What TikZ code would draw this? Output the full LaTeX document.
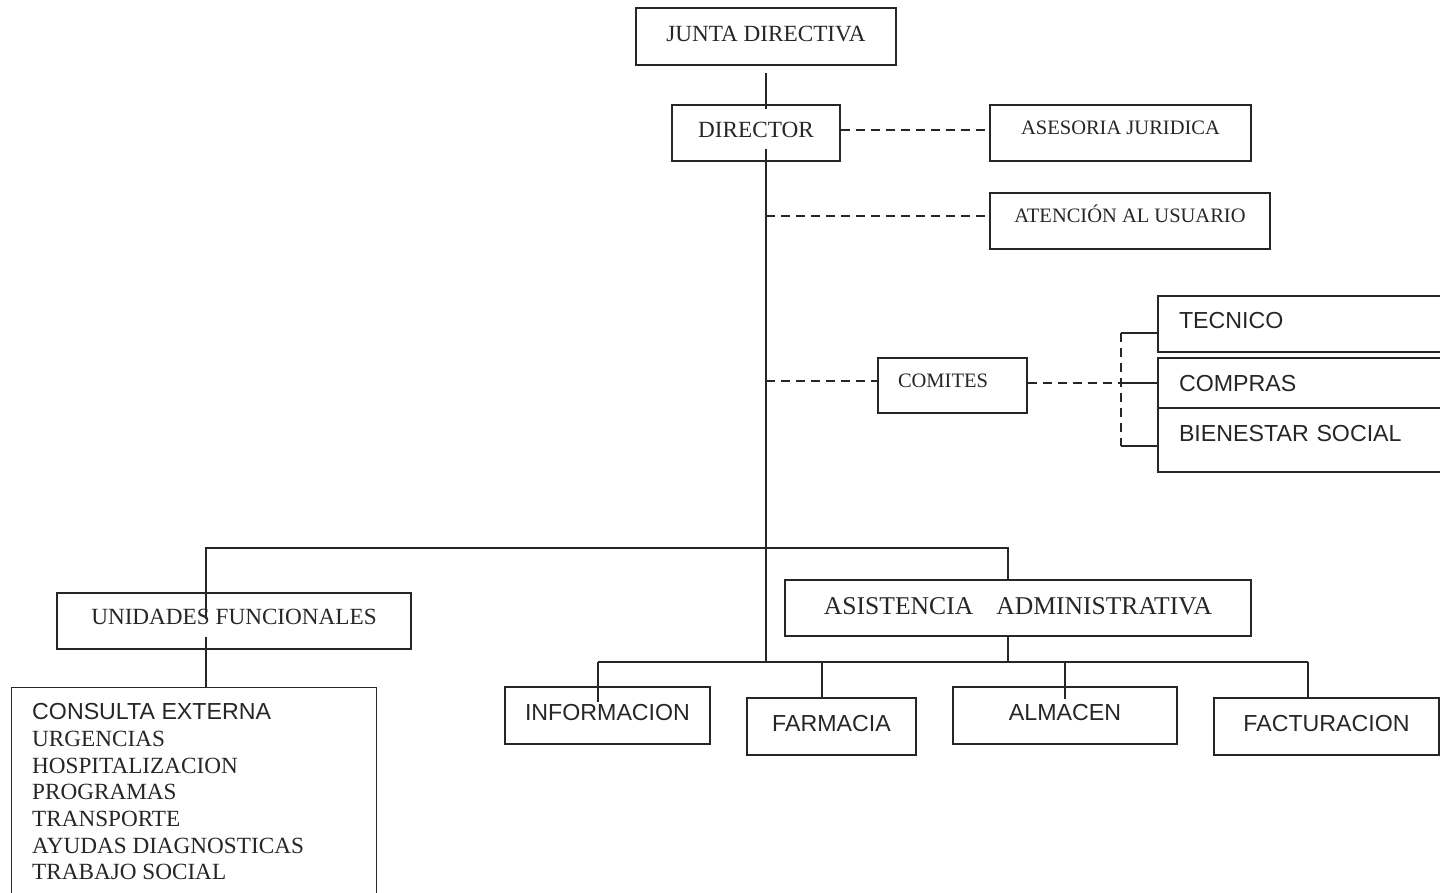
\documentclass[tikz,border=0pt]{standalone}
\usepackage{fontspec}
\setmainfont{Liberation Serif}
\newfontfamily\sansf{Liberation Sans}
\usetikzlibrary{calc}
\definecolor{ink}{HTML}{262626}
\tikzset{
  box/.style={draw=ink, line width=1.3pt, rectangle, inner sep=0pt, text=ink,
    font=\fontsize{23.2}{27}\selectfont, text height=15.3pt, text depth=0pt},
  small/.style={font=\fontsize{20.5}{24}\selectfont, text height=13.5pt},
  big/.style={font=\fontsize{25.6}{30}\selectfont, text height=16.9pt},
  sans/.style={font=\sansf\fontsize{23.2}{27}\selectfont, text height=16.6pt},
  lift/.style={text depth=#1},
  leftpad/.style={align=left, inner xsep=#1},
  listtext/.style={inner sep=0pt, align=left, text=ink, anchor=north west,
    font=\fontsize{23.2}{26.7}\selectfont},
  link/.style={draw=ink, line width=1.3pt},
  dashlink/.style={link, dash pattern=on 9pt off 6pt},
}
\begin{document}
\begin{tikzpicture}[x=1pt,y=-1pt]
\useasboundingbox (0,0) rectangle (1440,893);
\clip (0,0) rectangle (1440,893);

% top of the hierarchy
\node[box, minimum width=260pt, minimum height=57pt, lift=5pt] (junta) at (766,36.5) {JUNTA DIRECTIVA};
\node[box, minimum width=168pt, minimum height=56pt, lift=6pt] (director) at (756,133) {DIRECTOR};

% staff units
\node[box, small, minimum width=261pt, minimum height=56pt, lift=10pt] (asesoria) at (1120.5,133) {ASESORIA JURIDICA};
\node[box, small, minimum width=280pt, minimum height=56pt, lift=10pt] (atencion) at (1130,221) {ATENCIÓN AL USUARIO};
\node[box, small, minimum width=149pt, minimum height=55pt, lift=9pt, leftpad=20pt, text width=109pt] (comites) at (952.5,385.5) {COMITES};

% committees
\node[box, sans, minimum width=287pt, minimum height=56pt, lift=8pt, leftpad=21pt, text width=245pt] (tecnico) at (1301.5,324) {TECNICO};
\node[box, sans, minimum width=287pt, minimum height=50pt, lift=0pt, leftpad=21pt, text width=245pt] (compras) at (1301.5,383) {COMPRAS};
\node[box, sans, minimum width=287pt, minimum height=64pt, lift=14pt, leftpad=21pt, text width=245pt] (bienestar) at (1301.5,440) {BIENESTAR SOCIAL};

% line units
\node[box, minimum width=354pt, minimum height=56pt, lift=8pt] (unidades) at (234,621) {UNIDADES FUNCIONALES};
\node[box, big, minimum width=466pt, minimum height=56pt, lift=4pt] (asistencia) at (1018,608) {ASISTENCIA\hspace{23pt}ADMINISTRATIVA};

\node[box, minimum width=365pt, minimum height=240pt, anchor=north west] (consulta) at (11,687) {};
\node[listtext] (servicios) at (32,703.3) {{\sansf CONSULTA EXTERNA}\\URGENCIAS\\HOSPITALIZACION\\PROGRAMAS\\TRANSPORTE\\AYUDAS DIAGNOSTICAS\\TRABAJO SOCIAL};

\node[box, sans, minimum width=205pt, minimum height=57pt, lift=7pt] (informacion) at (607.5,715.5) {INFORMACION};
\node[box, sans, minimum width=169pt, minimum height=57pt, lift=7pt] (farmacia) at (831.5,726.5) {FARMACIA};
\node[box, sans, minimum width=224pt, minimum height=57pt, lift=7pt] (almacen) at (1065,715.5) {ALMACEN};
\node[box, sans, minimum width=225pt, minimum height=57pt, lift=7pt] (facturacion) at (1326.5,726.5) {FACTURACION};

% junction points
\coordinate (trunktop) at (766,149);
\coordinate (tapA) at (766,216);
\coordinate (tapC) at (766,381);
\coordinate (barL) at (206,548);
\coordinate (barR) at (1008,548);
\coordinate (hub) at (766,662);
\coordinate (lowL) at (598,662);
\coordinate (farmtap) at (822,662);
\coordinate (almtap) at (1065,662);
\coordinate (lowR) at (1308,662);
\coordinate (fork) at (1121,383);
\coordinate (forkT) at (1121,333);
\coordinate (forkB) at (1121,446);

% solid lines of authority
\draw[link] ([yshift=-7pt]junta.south) -- ([yshift=-5pt]director.north -| junta.south);
\draw[link] (trunktop) -- (hub);
\draw[link] ([yshift=-27pt]unidades.north -| barL) -- (barL) -- (barR) -- (asistencia.north -| barR);
\draw[link] ([yshift=13pt]unidades.south -| barL) -- (barL |- consulta.north);
\draw[link] (asistencia.south -| barR) -- (barR |- hub);
\draw[link] (lowL) -- (lowR);
\draw[link] (lowL) -- ([yshift=-16pt]informacion.north -| lowL);
\draw[link] (farmtap) -- (farmtap |- farmacia.north);
\draw[link] (almtap) -- ([yshift=-13pt]almacen.north -| almtap);
\draw[link] (lowR) -- (lowR |- facturacion.north);

% advisory (dashed) lines
\draw[dashlink] ([yshift=3pt]director.east) -- ([yshift=3pt]director.east -| asesoria.west);
\draw[dashlink] (tapA) -- (tapA -| atencion.west);
\draw[dashlink] (tapC) -- (tapC -| comites.west);
\draw[dashlink] ([yshift=2.5pt]comites.east) -- (fork);
\draw[dashlink] (forkT) -- (forkB);
\draw[link] (fork) -- (fork -| compras.west);
\draw[link] (forkT) -- (forkT -| tecnico.west);
\draw[link] (forkB) -- (forkB -| bienestar.west);
\end{tikzpicture}
\end{document}
